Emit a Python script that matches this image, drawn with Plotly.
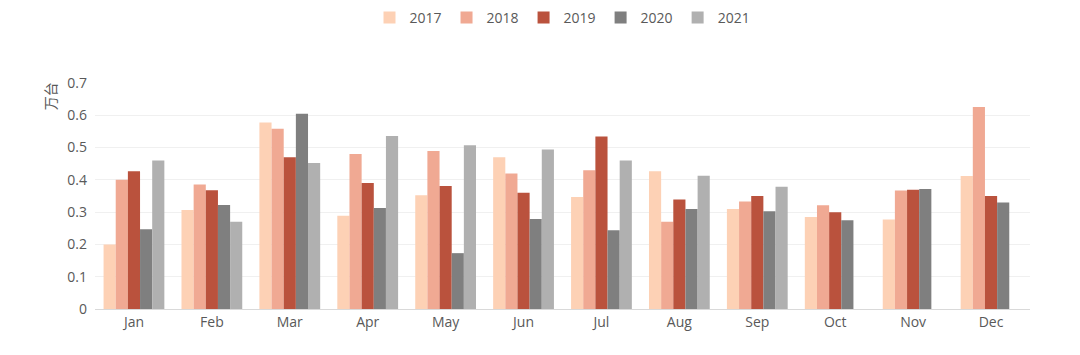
import plotly.graph_objects as go

months = ["Jan", "Feb", "Mar", "Apr", "May", "Jun", "Jul", "Aug", "Sep", "Oct", "Nov", "Dec"]
y2017 = [0.20, 0.307, 0.578, 0.289, 0.352, 0.47, 0.347, 0.427, 0.31, 0.285, 0.277, 0.412]
y2018 = [0.40, 0.386, 0.558, 0.48, 0.489, 0.42, 0.43, 0.27, 0.333, 0.321, 0.367, 0.626]
y2019 = [0.427, 0.368, 0.47, 0.39, 0.381, 0.36, 0.534, 0.339, 0.35, 0.30, 0.369, 0.35]
y2020 = [0.247, 0.322, 0.605, 0.313, 0.173, 0.279, 0.244, 0.31, 0.303, 0.275, 0.372, 0.33]
y2021 = [0.46, 0.27, 0.452, 0.536, 0.507, 0.494, 0.46, 0.413, 0.379, None, None, None]

series = [
    ("2017", y2017, "#FDD1B5"),
    ("2018", y2018, "#F0A993"),
    ("2019", y2019, "#BA523D"),
    ("2020", y2020, "#7F7F7F"),
    ("2021", y2021, "#B0B0B0"),
]

font = "Open Sans, Noto Sans, sans-serif"
fig = go.Figure()
for name, vals, color in series:
    fig.add_trace(go.Bar(x=months, y=vals, name=name, marker_color=color,
                         marker_line_width=0))

fig.update_layout(
    width=1080, height=355,
    barmode="group", bargap=0.22, bargroupgap=0,
    plot_bgcolor="white", paper_bgcolor="white",
    margin=dict(l=87, r=58, t=75, b=54),
    font=dict(family=font, size=14, color="#595959"),
    legend=dict(orientation="h", x=0.5, xanchor="center", yref="container",
                y=0.972, yanchor="middle", font=dict(size=14, color="#595959"),
                itemwidth=30, tracegroupgap=0),
    showlegend=True,
)
fig.update_xaxes(showline=True, linecolor="#D9D9D9", linewidth=1, ticks="",
                 tickfont=dict(size=14, color="#595959"), showgrid=False)
fig.update_yaxes(range=[0, 0.7], dtick=0.1, showgrid=True, gridcolor="#F0F0F0",
                 zeroline=False, ticks="", tickformat="~g",
                 tickfont=dict(size=14, color="#595959"), ticklabelstandoff=7)
fig.add_annotation(text="万台", xref="paper", yref="paper", x=-0.048, y=0.942,
                   xanchor="center", yanchor="middle", showarrow=False, textangle=-90,
                   font=dict(family="Noto Sans CJK SC", size=14, color="#595959"))
fig.write_html("out.html")
